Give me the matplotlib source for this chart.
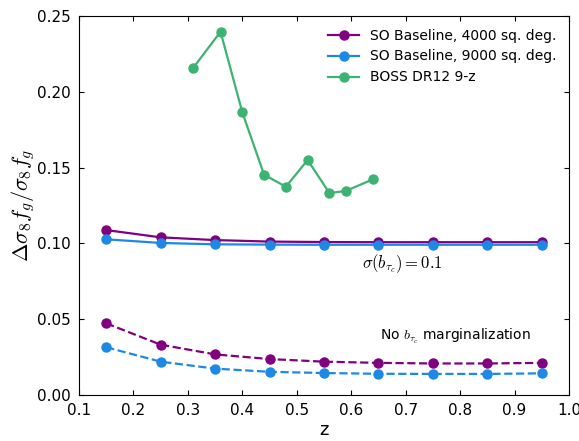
import numpy as np
import matplotlib
matplotlib.use("Agg")
import matplotlib.pyplot as plt

plt.rcParams['mathtext.fontset'] = 'cm'
plt.rcParams['font.family'] = 'DejaVu Sans'

# --- data ---
z_so = [0.15, 0.25, 0.35, 0.45, 0.55, 0.65, 0.75, 0.85, 0.95]
so4000_marg = [0.1088, 0.1040, 0.1022, 0.1012, 0.1009, 0.1008, 0.1008, 0.1008, 0.1008]
so9000_marg = [0.1027, 0.1003, 0.0994, 0.0992, 0.0991, 0.0991, 0.0991, 0.0991, 0.0991]
so4000_nomarg = [0.0473, 0.0332, 0.0268, 0.0237, 0.0220, 0.0212, 0.0208, 0.0208, 0.0212]
so9000_nomarg = [0.0315, 0.0220, 0.0174, 0.0153, 0.0145, 0.0140, 0.0139, 0.0139, 0.0143]

z_boss = [0.31, 0.36, 0.40, 0.44, 0.48, 0.52, 0.56, 0.59, 0.64]
boss_err = [0.2159, 0.2396, 0.1865, 0.1453, 0.1374, 0.1550, 0.1332, 0.1346, 0.1423]

c_purple = '#800080'
c_blue = '#1e88e5'
c_green = '#3cb371'

fig = plt.figure(figsize=(5.79, 4.41), dpi=100)
ax = fig.add_axes([0.1364, 0.1043, 0.8463, 0.8594])

kw = dict(lw=1.6, ms=6.5)
ax.plot(z_so, so4000_marg, '-o', color=c_purple, label='SO Baseline, 4000 sq. deg.', **kw)
ax.plot(z_so, so9000_marg, '-o', color=c_blue, label='SO Baseline, 9000 sq. deg.', **kw)
ax.plot(z_boss, boss_err, '-o', color=c_green, label='BOSS DR12 9-z', **kw)
ax.plot(z_so, so4000_nomarg, '--o', color=c_purple, **kw)
ax.plot(z_so, so9000_nomarg, '--o', color=c_blue, **kw)

ax.text(0.62, 0.084, r'$\sigma(b_{\tau_c}) = 0.1$', fontsize=12)
ax.text(0.653, 0.036, r'No $b_{\tau_c}$ marginalization', fontsize=10)

ax.set_xlim(0.1, 1.0)
ax.set_ylim(0.0, 0.25)
ax.set_xticks(np.arange(0.1, 1.01, 0.1))
ax.set_yticks(np.arange(0.0, 0.251, 0.05))
ax.tick_params(direction='in', top=True, right=True, labelsize=11, pad=6)
ax.set_xlabel('z', fontsize=13, labelpad=2)
ax.set_ylabel(r'$\Delta\sigma_8 f_g/\sigma_8 f_g$', fontsize=16, labelpad=0)

ax.legend(loc='upper right', frameon=False, fontsize=10, handlelength=2.2)

fig.savefig('out.png', dpi=100)
